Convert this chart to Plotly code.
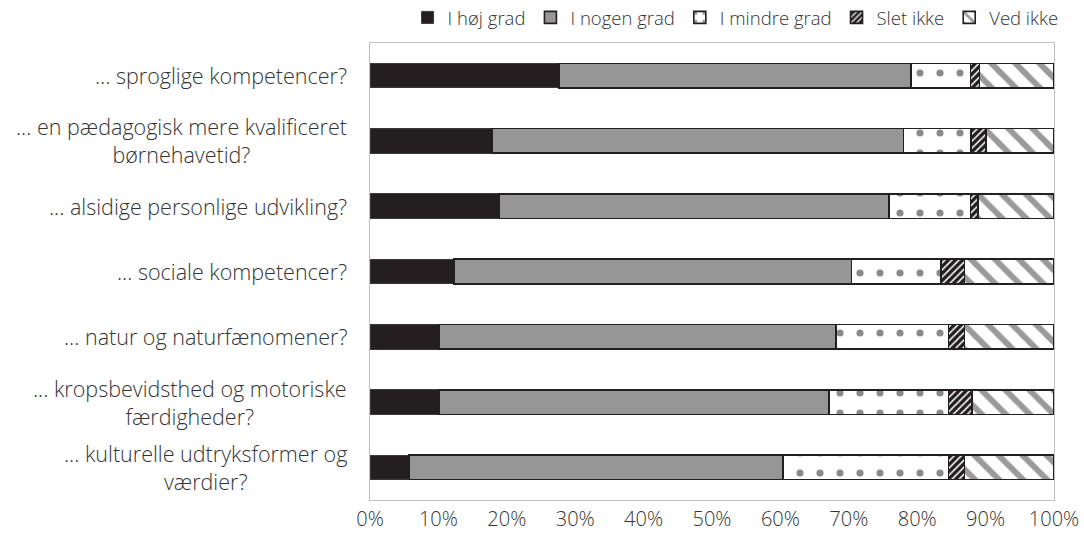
import plotly.graph_objects as go

# Survey items (top to bottom)
categories = [
    "… sproglige kompetencer?",
    "... en pædagogisk mere kvalificeret<br>børnehavetid?",
    "... alsidige personlige udvikling?",
    "... sociale kompetencer?",
    "... natur og naturfænomener?",
    "... kropsbevidsthed og motoriske<br>færdigheder?",
    "... kulturelle udtryksformer og<br>værdier?",
]

# Share of answers (%) per response option
hoej_grad = [27.6, 17.8, 18.9, 12.3, 10.1, 10.1, 5.7]
nogen_grad = [51.5, 60.2, 57.0, 58.1, 58.0, 57.0, 54.7]
mindre_grad = [8.7, 9.9, 11.9, 13.1, 16.5, 17.5, 24.2]
slet_ikke = [1.3, 2.2, 1.1, 3.4, 2.3, 3.4, 2.3]
ved_ikke = [10.9, 9.9, 11.1, 13.1, 13.1, 12.0, 13.1]

series_names = ["I høj grad", "I nogen grad", "I mindre grad", "Slet ikke", "Ved ikke"]
tick_vals = [0, 10, 20, 30, 40, 50, 60, 70, 80, 90, 100]
tick_text = ["0%", "10%", "20%", "30%", "40%", "50%", "60%", "70%", "80%", "90%", "100%"]

DARK = "#231f20"
GRAY = "#969696"
FONT = "Open Sans"
TEXT_COLOR = "#333333"

outline = dict(color=DARK, width=1.6)

fig = go.Figure()

fig.add_trace(go.Bar(
    y=categories, x=hoej_grad, name=series_names[0], orientation="h",
    marker=dict(color=DARK, line=dict(color="#3a3a3a", width=1)),
))
fig.add_trace(go.Bar(
    y=categories, x=nogen_grad, name=series_names[1], orientation="h",
    marker=dict(color=GRAY, line=outline),
))
fig.add_trace(go.Bar(
    y=categories, x=mindre_grad, name=series_names[2], orientation="h",
    marker=dict(
        color="white", line=outline,
        pattern=dict(shape=".", fgcolor="#8a8a8a", bgcolor="white",
                     size=20, solidity=0.1, fillmode="replace"),
    ),
))
fig.add_trace(go.Bar(
    y=categories, x=slet_ikke, name=series_names[3], orientation="h",
    marker=dict(
        color=DARK, line=outline,
        pattern=dict(shape="/", fgcolor="white", bgcolor=DARK,
                     size=5, solidity=0.3, fillmode="replace"),
    ),
))
fig.add_trace(go.Bar(
    y=categories, x=ved_ikke, name=series_names[4], orientation="h",
    marker=dict(
        color="white", line=outline,
        pattern=dict(shape="\\", fgcolor="#9a9a9a", bgcolor="white",
                     size=17, solidity=0.35, fillmode="replace"),
    ),
))

# Category labels, centred line by line, to the left of the plot area
annotations = [
    dict(
        x=-0.03, xref="paper", y=cat, yref="y",
        text=cat, showarrow=False, xanchor="right", yanchor="middle",
        align="center",
        font=dict(family=FONT, size=21.5, color=TEXT_COLOR, weight=300),
    )
    for cat in categories
]

fig.update_layout(
    width=1084, height=536,
    margin=dict(l=370, r=30, t=43, b=36, autoexpand=False),
    barmode="stack",
    bargap=0.623,
    plot_bgcolor="white",
    paper_bgcolor="white",
    font=dict(family=FONT, color=TEXT_COLOR, weight=300),
    showlegend=True,
    legend=dict(
        orientation="h",
        x=1.014, xanchor="right",
        y=1.055, yanchor="middle",
        font=dict(family=FONT, size=18.5, color=TEXT_COLOR, weight=300),
        itemwidth=30,
        tracegroupgap=0,
        traceorder="normal",
        bgcolor="rgba(0,0,0,0)",
    ),
    annotations=annotations,
    xaxis=dict(
        range=[0, 100],
        tickvals=tick_vals, ticktext=tick_text,
        showgrid=False, zeroline=False,
        showline=True, linecolor="#c0c0c0", linewidth=1, mirror=True,
        ticks="",
        tickfont=dict(family=FONT, size=20, color=TEXT_COLOR, weight=300),
        ticklabelstandoff=1,
    ),
    yaxis=dict(
        autorange="reversed",
        showticklabels=False,
        showgrid=False, zeroline=False,
        showline=True, linecolor="#c0c0c0", linewidth=1, mirror=True,
        ticks="",
    ),
)

fig.write_html("out.html")
